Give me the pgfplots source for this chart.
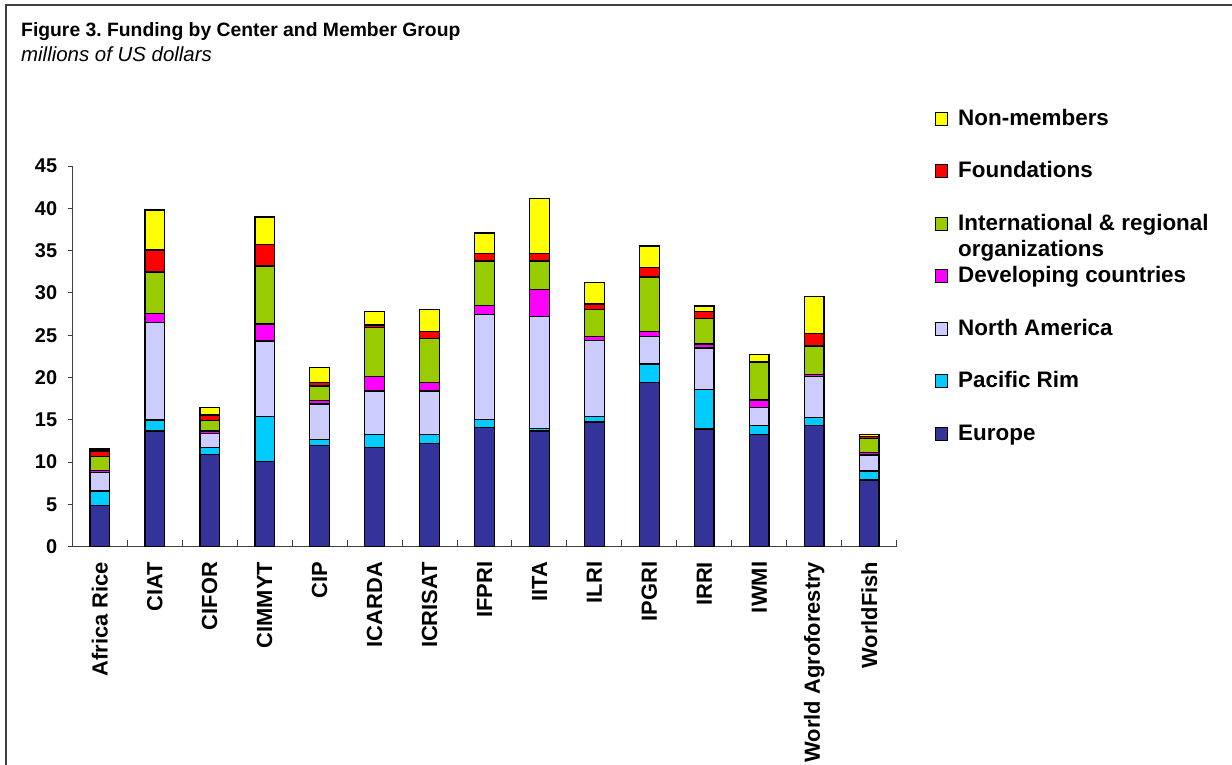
\documentclass[border=0pt]{standalone}
\usepackage{fontspec}
\setmainfont{Liberation Sans}
\usepackage{pgfplots}
\usepackage{pgfplotstable}
\pgfplotsset{compat=1.18}
\frenchspacing

\definecolor{cEur}{HTML}{333399}
\definecolor{cPac}{HTML}{00CCFF}
\definecolor{cNA}{HTML}{CCCCFF}
\definecolor{cDev}{HTML}{FF00FF}
\definecolor{cInt}{HTML}{99CC00}
\definecolor{cFou}{HTML}{FF0000}
\definecolor{cNon}{HTML}{FFFF00}

% funding by center, millions of US dollars
\pgfplotstableread{
x  eur   pac  na    dev  intl found non
0  4.85  1.73 2.17  0.23 1.66 0.67  0.24
1  13.68 1.30 11.54 1.06 4.89 2.63  4.70
2  10.92 0.78 1.70  0.28 1.22 0.67  0.91
3  10.05 5.32 8.94  2.01 6.86 2.52  3.27
4  11.94 0.75 4.18  0.39 1.74 0.43  1.73
5  11.70 1.59 5.11  1.70 5.79 0.31  1.58
6  12.18 1.11 5.11  1.03 5.16 0.87  2.56
7  14.07 0.94 12.41 1.07 5.28 0.86  2.45
8  13.68 0.27 13.24 3.19 3.39 0.91  6.45
9  14.74 0.63 8.98  0.47 3.24 0.63  2.56
10 19.43 2.17 3.22  0.64 6.42 1.10  2.56
11 13.91 4.69 4.89  0.47 3.04 0.82  0.63
12 13.29 1.01 2.18  0.86 4.46 0.05  0.85
13 14.30 0.95 4.85  0.28 3.34 1.50  4.33
14 7.88  1.07 1.89  0.27 1.66 0.23  0.29
}\funding

\pgfplotsset{sqlegend/.style={legend image code/.code={%
  \draw[##1,draw=black,line width=1bp] (0bp,-5.5bp) rectangle (12bp,7.5bp);}}}

\newcommand{\legfont}{\fontsize{22.5}{26}\selectfont\bfseries}

\begin{document}
\begin{tikzpicture}[x=1bp,y=1bp]
\path[use as bounding box] (0,0) rectangle (1232,-765);
\draw[line width=2bp, black!75] (6,-765) -- (6,-5) -- (1232,-5);
\node[anchor=base west, inner sep=0pt, font=\fontsize{19.4}{23}\selectfont\bfseries]
  at (21,-37) {Figure 3. Funding by Center and Member Group};
\node[anchor=base west, inner sep=0pt, font=\fontsize{20.5}{24}\selectfont\itshape]
  at (21,-62) {millions of US dollars};

\begin{axis}[
    at={(72.3bp,-546.7bp)}, anchor=south west,
    scale only axis, width=824.4bp, height=380.7bp,
    ybar stacked, bar width=0.36,
    clip=false,
    xmin=-0.5, xmax=14.5, ymin=0, ymax=45,
    enlargelimits=false,
    axis x line*=bottom, axis y line*=left,
    axis line style={-, draw=black!75, line width=1bp},
    xtick=data,
    xticklabels={Africa Rice, CIAT, CIFOR, CIMMYT, CIP, ICARDA, ICRISAT,
        IFPRI, IITA, ILRI, IPGRI, IRRI, IWMI, World Agroforestry, WorldFish},
    major x tick style={draw=none},
    minor xtick={-0.5,0.5,...,14.5},
    minor tick length=7bp,
    xtick align=inside,
    ytick={0,5,...,45},
    ytick align=outside,
    major tick length=4bp,
    tick style={draw=black!75, line width=1bp},
    /pgf/number format/assume math mode=true,
    xticklabel style={rotate=90, anchor=east, inner sep=0pt, xshift=-15bp,
        font=\fontsize{22}{26}\selectfont\bfseries},
    yticklabel style={anchor=east, inner sep=0pt, xshift=-11bp,
        font=\fontsize{20}{24}\selectfont\bfseries},
    every axis plot/.append style={draw=black, line width=1.5bp},
    every axis plot post/.append style={sqlegend},
    reverse legend,
    legend cell align=left,
    legend style={draw=none, fill=none,
        at={(axis description cs:1.0465,1.1497)}, anchor=north west,
        inner sep=0pt, row sep=31.5bp, column sep=10bp,
        nodes={inner sep=0pt, text height=16bp, text depth=5bp, font=\legfont}},
]
\addplot[fill=cEur] table[x=x, y=eur] {\funding};
\addplot[fill=cPac] table[x=x, y=pac] {\funding};
\addplot[fill=cNA]  table[x=x, y=na] {\funding};
\addplot[fill=cDev] table[x=x, y=dev] {\funding};
\addplot[fill=cInt] table[x=x, y=intl] {\funding};
\addplot[fill=cFou] table[x=x, y=found] {\funding};
\addplot[fill=cNon] table[x=x, y=non] {\funding};
\legend{Europe, Pacific Rim, North America, Developing countries,
    {\rlap{\smash{\raisebox{-26bp}{organizations}}}International \& regional},
    Foundations, Non-members}
\end{axis}
\end{tikzpicture}
\end{document}
